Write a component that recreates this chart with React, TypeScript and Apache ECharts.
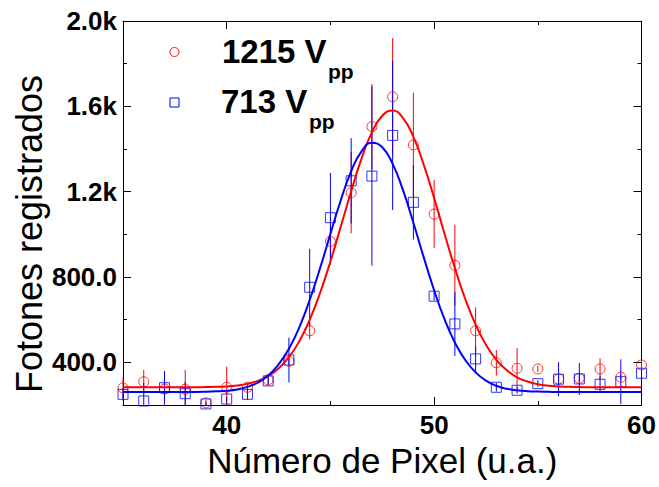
import React, { useEffect, useRef } from "react";
import * as echarts from "echarts";

// ---- data ----
const pixelNumbers = [35, 36, 37, 38, 39, 40, 41, 42, 43, 44, 45, 46, 47, 48, 49, 50, 51, 52, 53, 54, 55, 56, 57, 58, 59, 60];
const red1215Values = [280, 309, 275, 274, 210, 283, 283, 318, 405, 548, 967, 1195, 1505, 1645, 1419, 1095, 855, 548, 398, 372, 369, 322, 325, 369, 330, 388];
const red1215Errors = [50, 55, 85, 90, 15, 97, 20, 20, 20, 40, 110, 190, 200, 275, 245, 160, 190, 110, 60, 95, 15, 15, 15, 50, 15, 20];
const blue713Values = [250, 219, 281, 253, 205, 228, 250, 313, 411, 752, 1078, 1251, 1273, 1464, 1150, 710, 580, 416, 283, 269, 300, 321, 322, 297, 309, 349];
const blue713Errors = [30, 85, 75, 55, 10, 10, 25, 20, 105, 180, 210, 200, 420, 350, 175, 20, 150, 60, 20, 15, 15, 80, 75, 38, 105, 20];

const fitPixels = [35, 35.5, 36, 36.5, 37, 37.5, 38, 38.5, 39, 39.5, 40, 40.5, 41, 41.5, 42, 42.5, 43, 43.5, 44, 44.5, 45, 45.5, 46, 46.5, 47, 47.5, 48, 48.5, 49, 49.5, 50, 50.5, 51, 51.5, 52, 52.5, 53, 53.5, 54, 54.5, 55, 55.5, 56, 56.5, 57, 57.5, 58, 58.5, 59, 59.5, 60];
const red1215Fit = [283, 283, 283, 283, 283, 283, 283, 283, 284, 285, 287, 291, 299, 313, 336, 371, 424, 499, 599, 725, 873, 1036, 1202, 1355, 1478, 1556, 1580, 1545, 1457, 1326, 1170, 1003, 842, 697, 577, 482, 412, 363, 330, 310, 297, 290, 287, 285, 284, 283, 283, 283, 283, 283, 283];
const blue713Fit = [261, 261, 261, 261, 261, 261, 261, 261, 262, 264, 267, 273, 285, 305, 338, 390, 464, 564, 692, 841, 1002, 1160, 1295, 1389, 1429, 1408, 1330, 1207, 1054, 892, 738, 602, 493, 411, 353, 314, 290, 276, 269, 265, 263, 262, 261, 261, 261, 261, 261, 261, 261, 261, 261];

const xMajorTicks = [40, 50, 60];
const xMinorTicks = [45, 55];
const yMajorTicks = [400, 800, 1200, 1600, 2000];
const yMinorTicks = [600, 1000, 1400, 1800];

const seriesNames = ["1215 V", "713 V"];
const subscriptText = "pp";
const xTitle = "Número de Pixel (u.a.)";
const yTitle = "Fotones registrados";

const FONT = '"Liberation Sans", Arial, Helvetica, sans-serif';
const RED = "#ff0000";
const BLUE = "#0000ff";

const fmtY = (v: number) => (v >= 1000 ? (v / 1000).toFixed(1) + "k" : v.toFixed(1));

function errorBarRenderer(color: string) {
  return (params: any, api: any) => {
    const x = api.value(0);
    const y = api.value(1);
    const e = api.value(2);
    const p1 = api.coord([x, y + e]);
    const p2 = api.coord([x, y - e]);
    const cs = params.coordSys;
    const top = Math.max(cs.y, p1[1]);
    const bottom = Math.min(cs.y + cs.height, p2[1]);
    if (bottom <= top) return null;
    return {
      type: "line",
      shape: { x1: p1[0], y1: top, x2: p1[0], y2: bottom },
      style: { stroke: color, lineWidth: 1 },
    };
  };
}

export default function App() {
  const ref = useRef<HTMLDivElement>(null);
  useEffect(() => {
    if (!ref.current) return;
    const chart = echarts.init(ref.current, undefined, { renderer: "svg" });

    const tickStyle = { color: "#000", width: 1 };
    const xBase = {
      type: "value",
      min: 35,
      max: 60,
      splitLine: { show: false },
      axisLine: { show: true, lineStyle: { color: "#000", width: 1 } },
      axisLabel: { show: false },
    };
    const yBase = {
      type: "value",
      min: 200,
      max: 2000,
      splitLine: { show: false },
      axisLine: { show: true, lineStyle: { color: "#000", width: 1 } },
      axisLabel: { show: false },
    };

    const redErr = pixelNumbers.map((x, i) => [x, red1215Values[i], red1215Errors[i]]);
    const blueErr = pixelNumbers.map((x, i) => [x, blue713Values[i], blue713Errors[i]]);

    const option: any = {
      animation: false,
      backgroundColor: "#ffffff",
      grid: { left: 123, right: 13, top: 21, bottom: 82 },
      xAxis: [
        {
          ...xBase,
          position: "bottom",
          axisTick: { show: true, inside: true, length: 8, customValues: xMajorTicks, lineStyle: tickStyle },
          axisLabel: {
            show: true,
            customValues: xMajorTicks,
            margin: 7,
            fontSize: 26,
            fontWeight: "bold",
            color: "#000",
            fontFamily: FONT,
          },
          name: xTitle,
          nameLocation: "middle",
          nameGap: 35,
          nameTextStyle: { fontSize: 35, color: "#000", fontFamily: FONT },
        },
        {
          ...xBase,
          position: "bottom",
          axisLine: { show: false },
          axisTick: { show: true, inside: true, length: 4, customValues: xMinorTicks, lineStyle: tickStyle },
        },
        {
          ...xBase,
          position: "top",
          axisTick: { show: true, inside: true, length: 8, customValues: xMajorTicks, lineStyle: tickStyle },
        },
        {
          ...xBase,
          position: "top",
          axisLine: { show: false },
          axisTick: { show: true, inside: true, length: 4, customValues: xMinorTicks, lineStyle: tickStyle },
        },
      ],
      yAxis: [
        {
          ...yBase,
          position: "left",
          axisTick: { show: true, inside: true, length: 8, customValues: yMajorTicks, lineStyle: tickStyle },
          axisLabel: {
            show: true,
            customValues: yMajorTicks,
            showMaxLabel: true,
            margin: 6,
            fontSize: 26,
            fontWeight: "bold",
            color: "#000",
            fontFamily: FONT,
            formatter: (v: number) => fmtY(v),
          },
        },
        {
          ...yBase,
          position: "left",
          axisLine: { show: false },
          axisTick: { show: true, inside: true, length: 4, customValues: yMinorTicks, lineStyle: tickStyle },
        },
        {
          ...yBase,
          position: "right",
          axisTick: { show: true, inside: true, length: 8, customValues: yMajorTicks, lineStyle: tickStyle },
        },
        {
          ...yBase,
          position: "right",
          axisLine: { show: false },
          axisTick: { show: true, inside: true, length: 4, customValues: yMinorTicks, lineStyle: tickStyle },
        },
      ],
      series: [
        {
          name: seriesNames[0] + " err",
          type: "custom",
          xAxisIndex: 0,
          yAxisIndex: 0,
          renderItem: errorBarRenderer(RED),
          data: redErr,
          z: 2,
        },
        {
          name: seriesNames[1] + " err",
          type: "custom",
          xAxisIndex: 0,
          yAxisIndex: 0,
          renderItem: errorBarRenderer(BLUE),
          data: blueErr,
          z: 2,
        },
        {
          name: seriesNames[0],
          type: "scatter",
          xAxisIndex: 0,
          yAxisIndex: 0,
          symbol: "circle",
          symbolSize: 10,
          itemStyle: { color: "none", borderColor: RED, borderWidth: 1 },
          data: pixelNumbers.map((x, i) => [x, red1215Values[i]]),
          z: 3,
        },
        {
          name: seriesNames[1],
          type: "scatter",
          xAxisIndex: 0,
          yAxisIndex: 0,
          symbol: "rect",
          symbolSize: 10,
          itemStyle: { color: "none", borderColor: BLUE, borderWidth: 1 },
          data: pixelNumbers.map((x, i) => [x, blue713Values[i]]),
          z: 3,
        },
        {
          name: seriesNames[0] + " fit",
          type: "line",
          xAxisIndex: 0,
          yAxisIndex: 0,
          showSymbol: false,
          smooth: true,
          lineStyle: { color: RED, width: 2 },
          data: fitPixels.map((x, i) => [x, red1215Fit[i]]),
          z: 4,
        },
        {
          name: seriesNames[1] + " fit",
          type: "line",
          xAxisIndex: 0,
          yAxisIndex: 0,
          showSymbol: false,
          smooth: true,
          lineStyle: { color: BLUE, width: 2 },
          data: fitPixels.map((x, i) => [x, blue713Fit[i]]),
          z: 4,
        },
      ],
      graphic: [
        {
          type: "text",
          x: 29,
          y: 234,
          rotation: Math.PI / 2,
          style: { text: yTitle, font: `36px ${FONT}`, fill: "#000", verticalAlign: "middle", align: "center" },
        },
        {
          type: "circle",
          shape: { cx: 174.5, cy: 52, r: 4.5 },
          style: { fill: "none", stroke: RED, lineWidth: 1 },
        },
        {
          type: "rect",
          shape: { x: 170, y: 98, width: 9, height: 9 },
          style: { fill: "none", stroke: BLUE, lineWidth: 1 },
        },
        {
          type: "text",
          x: 222,
          y: 51.6,
          style: { text: seriesNames[0], font: `bold 33px ${FONT}`, fill: "#000", verticalAlign: "middle", align: "left" },
        },
        {
          type: "text",
          x: 328,
          y: 71,
          style: { text: subscriptText, font: `bold 21px ${FONT}`, fill: "#000", verticalAlign: "middle", align: "left" },
        },
        {
          type: "text",
          x: 221,
          y: 101.6,
          style: { text: seriesNames[1], font: `bold 33px ${FONT}`, fill: "#000", verticalAlign: "middle", align: "left" },
        },
        {
          type: "text",
          x: 309,
          y: 121,
          style: { text: subscriptText, font: `bold 21px ${FONT}`, fill: "#000", verticalAlign: "middle", align: "left" },
        },
      ],
    };

    chart.setOption(option);
    return () => chart.dispose();
  }, []);

  return (
    <div
      ref={ref}
      style={{ position: "fixed", left: 0, top: 0, width: 659, height: 487, background: "#fff" }}
    />
  );
}
